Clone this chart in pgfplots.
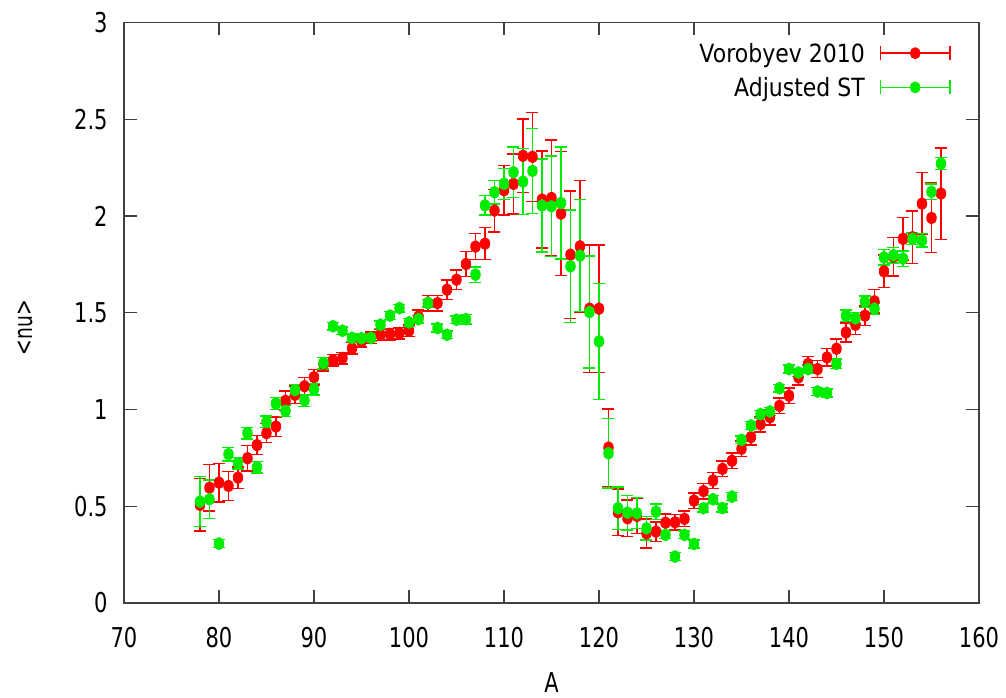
\documentclass[border=0pt]{standalone}
\usepackage{pgfplots}
\pgfplotsset{compat=1.18}
\usepackage{pgfplotstable}
\usepackage{graphicx}
\usepackage{fontspec}
\setmainfont{DejaVu Sans}

\definecolor{vred}{RGB}{255,0,0}
\definecolor{vgreen}{RGB}{0,236,0}

% gnuplot-like tall glyphs
\newcommand{\tall}[1]{\scalebox{1}[1.3]{#1}}
\newcommand{\legtall}[1]{\scalebox{1}[1.14]{#1}}

% legend sample: error bar with caps and a dot in the middle
\newcommand{\errsample}[1]{%
  \draw[#1, line width=0.7pt] (0pt,0pt) -- (34.7pt,0pt)
    (0pt,-3.5pt) -- (0pt,3.5pt) (34.7pt,-3.5pt) -- (34.7pt,3.5pt);
  \fill[#1] (17.35pt,0pt) ellipse (2.5pt and 2.75pt);}

% A  <nu>  error
\pgfplotstableread{
A nu err
78 0.507 0.135
79 0.596 0.12
80 0.622 0.10
81 0.605 0.075
82 0.648 0.055
83 0.748 0.065
84 0.816 0.05
85 0.878 0.05
86 0.912 0.05
87 1.045 0.05
88 1.076 0.045
89 1.120 0.045
90 1.167 0.04
91 1.235 0.035
92 1.254 0.03
93 1.266 0.03
94 1.316 0.03
95 1.352 0.03
96 1.370 0.03
97 1.386 0.03
98 1.390 0.03
99 1.395 0.03
100 1.407 0.03
101 1.480 0.035
102 1.550 0.04
103 1.550 0.04
104 1.619 0.05
105 1.671 0.05
106 1.752 0.065
107 1.842 0.068
108 1.857 0.083
109 2.028 0.11
110 2.133 0.127
111 2.166 0.155
112 2.311 0.19
113 2.306 0.23
114 2.085 0.25
115 2.093 0.30
116 2.012 0.32
117 1.800 0.33
118 1.843 0.34
119 1.521 0.33
120 1.521 0.33
121 0.803 0.20
122 0.469 0.12
123 0.438 0.095
124 0.450 0.09
125 0.360 0.075
126 0.369 0.05
127 0.415 0.045
128 0.417 0.04
129 0.435 0.04
130 0.529 0.04
131 0.578 0.04
132 0.633 0.04
133 0.693 0.04
134 0.735 0.04
135 0.797 0.04
136 0.857 0.04
137 0.924 0.04
138 0.960 0.04
139 1.019 0.04
140 1.071 0.04
141 1.166 0.04
142 1.235 0.04
143 1.209 0.045
144 1.269 0.045
145 1.314 0.05
146 1.398 0.05
147 1.438 0.05
148 1.485 0.05
149 1.559 0.06
150 1.714 0.085
151 1.790 0.10
152 1.882 0.11
153 1.890 0.135
154 2.064 0.16
155 1.990 0.18
156 2.116 0.236
}\vorobyev

\pgfplotstableread{
A nu err
78 0.524 0.13
79 0.536 0.10
80 0.307 0.02
81 0.769 0.035
82 0.723 0.03
83 0.878 0.03
84 0.702 0.03
85 0.936 0.03
86 1.031 0.03
87 0.993 0.03
88 1.100 0.03
89 1.047 0.03
90 1.105 0.03
91 1.240 0.03
92 1.430 0.02
93 1.407 0.02
94 1.370 0.02
95 1.368 0.02
96 1.370 0.02
97 1.438 0.02
98 1.485 0.02
99 1.524 0.02
100 1.450 0.02
101 1.467 0.02
102 1.550 0.02
103 1.421 0.02
104 1.386 0.02
105 1.464 0.02
106 1.467 0.025
107 1.697 0.04
108 2.055 0.05
109 2.123 0.06
110 2.166 0.08
111 2.226 0.13
112 2.178 0.17
113 2.233 0.22
114 2.054 0.24
115 2.050 0.26
116 2.067 0.29
117 1.740 0.29
118 1.795 0.29
119 1.504 0.29
120 1.352 0.30
121 0.774 0.18
122 0.490 0.11
123 0.467 0.09
124 0.464 0.08
125 0.386 0.06
126 0.472 0.04
127 0.352 0.02
128 0.240 0.02
129 0.352 0.02
130 0.305 0.02
131 0.490 0.02
132 0.536 0.02
133 0.491 0.02
134 0.550 0.02
135 0.843 0.02
136 0.917 0.02
137 0.976 0.02
138 0.990 0.02
139 1.110 0.02
140 1.209 0.02
141 1.191 0.02
142 1.209 0.02
143 1.093 0.02
144 1.085 0.02
145 1.236 0.025
146 1.485 0.03
147 1.471 0.03
148 1.557 0.03
149 1.521 0.03
150 1.786 0.04
151 1.797 0.04
152 1.780 0.04
153 1.882 0.03
154 1.874 0.035
155 2.125 0.04
156 2.271 0.03
}\adjusted

\begin{document}
\begin{tikzpicture}
\useasboundingbox (-62pt,-47pt) rectangle (441pt,301.5pt);
\begin{axis}[
  scale only axis,
  width=427.5pt, height=290.25pt,
  xmin=70, xmax=160, ymin=0, ymax=3,
  xtick={70,80,...,160},
  ytick={0,0.5,...,3},
  tick align=inside,
  major tick length=6.5pt,
  tick style={black!75, line width=0.6pt},
  axis line style={black!75, line width=0.75pt},
  every tick label/.append style={font=\fontsize{10.5}{12}\selectfont, inner sep=0pt},
  xticklabel={\tall{\pgfmathprintnumber[assume math mode=true]{\tick}}},
  yticklabel={\tall{\pgfmathprintnumber[assume math mode=true]{\tick}}},
  x tick label style={anchor=north, yshift=-11.8pt},
  y tick label style={anchor=east, xshift=-8pt},
  xlabel={\tall{A}},
  ylabel={\scalebox{0.85}[1.15]{<nu>}},
  every axis x label/.style={at={(axis description cs:0.5,0)}, yshift=-39.8pt, anchor=center, inner sep=0pt, font=\fontsize{10.5}{12}\selectfont},
  every axis y label/.style={at={(axis description cs:0,0.5)}, xshift=-49.5pt, yshift=-7.5pt, rotate=90, anchor=center, font=\fontsize{11}{13}\selectfont},
  legend plot pos=right,
  legend cell align=right,
  legend style={draw=none, fill=none, inner sep=0pt,
    at={(axis description cs:0.9673,0.9635)}, anchor=north east,
    font=\fontsize{11}{13}\selectfont,
    nodes={inner sep=0pt, text height=9.1pt, text depth=0pt},
    column sep=7.5pt, row sep=8pt},
]
\addplot[only marks, mark=*, mark size=2.4pt,
  mark options={yscale=1.25, fill=vred, draw=vred},
  legend image code/.code={\errsample{vred}},
  error bars/.cd, y dir=both, y explicit,
  error bar style={vred, line width=0.7pt},
  error mark options={rotate=90, vred, line width=0.7pt, mark size=3pt},
  ]
  table[x=A, y=nu, y error=err]{\vorobyev};
\addlegendentry{\legtall{Vorobyev 2010}}
\addplot[only marks, mark=*, mark size=2.4pt,
  mark options={yscale=1.25, fill=vgreen, draw=vgreen},
  legend image code/.code={\errsample{vgreen}},
  error bars/.cd, y dir=both, y explicit,
  error bar style={vgreen, line width=0.7pt},
  error mark options={rotate=90, vgreen, line width=0.7pt, mark size=3pt},
  ]
  table[x=A, y=nu, y error=err]{\adjusted};
\addlegendentry{\legtall{Adjusted ST}}
\end{axis}
\end{tikzpicture}
\end{document}
